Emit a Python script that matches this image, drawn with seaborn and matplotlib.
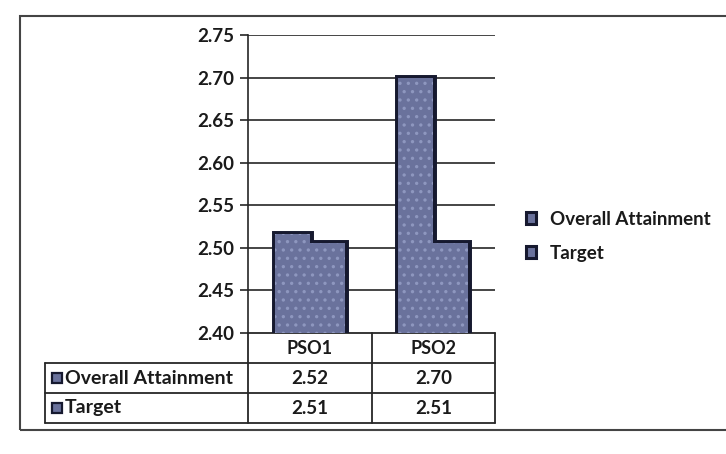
import matplotlib
matplotlib.use('Agg')
import matplotlib.pyplot as plt
from matplotlib.patches import Rectangle
import matplotlib.transforms as mtransforms
import numpy as np
import pandas as pd
import seaborn as sns

categories = ['PSO1', 'PSO2']
series = ['Overall Attainment', 'Target']
attainment = [2.516, 2.70]
target = [2.506, 2.506]
table_text = [['2.52', '2.70'], ['2.51', '2.51']]
y_ticks = [2.40, 2.45, 2.50, 2.55, 2.60, 2.65, 2.70, 2.75]

df = pd.DataFrame({
    'category': categories * 2,
    'series': [series[0]] * 2 + [series[1]] * 2,
    'value': attainment + target,
})

sns.set_style('white')
plt.rcParams['font.family'] = ['Lato', 'DejaVu Sans']
plt.rcParams['hatch.linewidth'] = 1.2
fs = 13.5
fw = 'bold'
bar_col = '#6a729c'
edge_col = '#16192f'
line_col = '#262626'
text_col = '#1a1a1a'

fig = plt.figure(figsize=(7.26, 4.54), dpi=100)
ax = fig.add_axes([248 / 726, 1 - 333 / 454, 247 / 726, 298 / 454])

# first pass: thick outline, second pass covers the inner half so bars in a group merge
sns.barplot(data=df, x='category', y='value', hue='series', ax=ax,
            palette=[bar_col, bar_col], width=0.57, gap=0,
            edgecolor=edge_col, linewidth=5, saturation=1, zorder=3)
handles, labels = ax.get_legend_handles_labels()
ax.get_legend().remove()
sns.barplot(data=df, x='category', y='value', hue='series', ax=ax,
            palette=[bar_col, bar_col], width=0.57, gap=0, legend=False,
            edgecolor='#8e97bf', linewidth=0, saturation=1, zorder=4,
            hatch='..')

ax.set_ylim(2.40, 2.75)
ax.set_xlim(-0.5, 1.5)
ax.set_yticks(y_ticks)
ax.set_yticklabels([f'{t:.2f}' for t in y_ticks], fontsize=fs, color=text_col,
                   fontweight=fw)
ax.set_xticks([])
ax.set_xlabel('')
ax.set_ylabel('')
for t in y_ticks[1:]:
    ax.axhline(t, color=line_col, lw=1.2, zorder=1)
for s in ['top', 'right', 'bottom']:
    ax.spines[s].set_visible(False)
ax.spines['left'].set_color(line_col)
ax.spines['left'].set_linewidth(1.2)
ax.tick_params(axis='y', left=True, length=6, width=1.2, color=line_col, pad=4)

# legend on the right
leg = fig.legend(handles, labels, loc='center left', bbox_to_anchor=(0.701, 0.48),
                 frameon=False, handlelength=0.55, handleheight=0.55,
                 handletextpad=0.75, labelspacing=0.9,
                 prop={'size': fs, 'weight': fw}, labelcolor=text_col)
for h in leg.legend_handles:
    h.set_linewidth(2.2)

# data table under the plot
tr = mtransforms.blended_transform_factory(ax.transData, ax.transAxes)
row_h = 30 / 298
x_left = -0.5 - (248 - 45) / 123.5
tops = [0, -row_h, -2 * row_h, -3 * row_h]
kw = dict(transform=tr, clip_on=False, color=line_col, lw=1.3)
ax.plot([-0.5, 1.5], [tops[0], tops[0]], **kw)
for y in tops[1:]:
    ax.plot([x_left, 1.5], [y, y], **kw)
ax.plot([x_left, x_left], [tops[1], tops[3]], **kw)
for x in [-0.5, 0.5, 1.5]:
    ax.plot([x, x], [tops[0], tops[3]], **kw)

for i, c in enumerate(categories):
    ax.text(i, -row_h / 2, c, transform=tr, ha='center', va='center',
            fontsize=fs - 0.5, fontweight=fw, color=text_col)
for r, name in enumerate(series):
    yc = -row_h * (r + 1.5)
    ax.plot([x_left + 0.1], [yc], transform=tr, clip_on=False, marker='s',
            ms=6.5, mfc=bar_col, mec=edge_col, mew=1.6)
    ax.text(x_left + 0.16, yc, name, transform=tr, ha='left', va='center',
            fontsize=fs + 0.5, fontweight=fw, color=text_col)
    for i in range(len(categories)):
        ax.text(i, yc, table_text[r][i], transform=tr, ha='center', va='center',
                fontsize=fs, fontweight=fw, color=text_col)

# outer chart border
fig.patches.append(Rectangle((20 / 726, 1 - 430 / 454), 1.2, (430 - 16) / 454,
                             transform=fig.transFigure, fill=False,
                             edgecolor='#444444', lw=1.5))

fig.savefig('out.png', dpi=100)
